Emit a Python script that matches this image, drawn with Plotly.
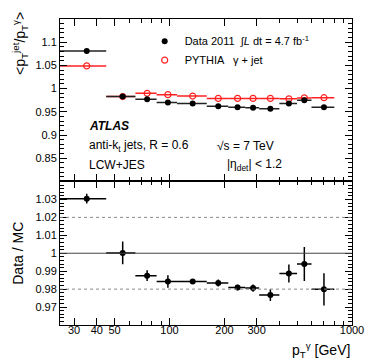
"""Photon + jet response: data vs PYTHIA, with Data/MC ratio."""

import plotly.graph_objects as go

# pT bins [GeV]
bin_lo = [25, 45, 65, 85, 110, 160, 210, 260, 310, 400, 500, 600]
bin_hi = [45, 65, 85, 110, 160, 210, 260, 310, 400, 500, 600, 800]
pt_center = [35.2, 55.4, 75.4, 98, 134, 185, 236, 287, 357, 451, 548, 702]

# <pT jet / pT gamma>
data_resp = [1.081, 0.983, 0.977, 0.970, 0.968, 0.962, 0.960, 0.959, 0.9565, 0.968, 0.975, 0.960]
data_err = [0.002, 0.002, 0.002, 0.002, 0.0015, 0.0015, 0.0015, 0.002, 0.002, 0.003, 0.005, 0.005]
mc_resp = [1.049, 0.983, 0.990, 0.987, 0.984, 0.979, 0.979, 0.979, 0.979, 0.978, 0.980, 0.9805]

# Data / MC
ratio = [1.0304, 1.0002, 0.9875, 0.9842, 0.9843, 0.9834, 0.9809, 0.9806, 0.9767, 0.9887, 0.9940, 0.9799]
ratio_err = [0.0027, 0.0064, 0.003, 0.0035, 0.0012, 0.002, 0.0015, 0.002, 0.0033, 0.005, 0.0095, 0.009]

x_labels = [30, 40, 50, 100, 200, 300, 1000]
x_minor = [60, 70, 80, 90, 400, 500, 600, 700, 800, 900]

up_ticks = [0.85, 0.9, 0.95, 1.0, 1.05, 1.1]
up_text = ["0.85", "0.9", "0.95", "1", "1.05", "1.1"]
lo_ticks = [0.97, 0.98, 0.99, 1.0, 1.01, 1.02, 1.03]
lo_text = ["0.97", "0.98", "0.99", "1", "1.01", "1.02", "1.03"]

FONT = "Liberation Sans, Arial, sans-serif"

# page has an 8px body margin; plot area wanted at x 56..355, y 18..325
OFF = 8
L, T = 56, 18
PW, PH = 299, 307

err_plus = [h - c for h, c in zip(bin_hi, pt_center)]
err_minus = [c - l for l, c in zip(bin_lo, pt_center)]

fig = go.Figure()

# MC (red open circles)
fig.add_trace(go.Scatter(
    x=pt_center, y=mc_resp, xaxis="x2", yaxis="y2",
    mode="markers", name="PYTHIA   γ + jet",
    marker=dict(symbol="circle-open", color="#ff2020", size=6, line=dict(width=1.2)),
    error_x=dict(type="data", array=err_plus, arrayminus=err_minus,
                 color="#ff2020", thickness=1.5, width=0),
))

# Data (black dots)
fig.add_trace(go.Scatter(
    x=pt_center, y=data_resp, xaxis="x2", yaxis="y2",
    mode="markers", name="Data 2011  ∫<i>L</i> dt = 4.7 fb<sup>-1</sup>",
    marker=dict(symbol="circle", color="black", size=6),
    error_x=dict(type="data", array=err_plus, arrayminus=err_minus,
                 color="#222222", thickness=1.5, width=0),
    error_y=dict(type="data", array=data_err, color="black", thickness=1.5, width=0),
))

# ratio
fig.add_trace(go.Scatter(
    x=pt_center, y=ratio, xaxis="x", yaxis="y",
    mode="markers", showlegend=False,
    marker=dict(symbol="circle", color="black", size=6),
    error_x=dict(type="data", array=err_plus, arrayminus=err_minus,
                 color="black", thickness=1.5, width=0),
    error_y=dict(type="data", array=ratio_err, color="black", thickness=1.5, width=0),
))

# reference lines in ratio panel
fig.add_hline(y=1.0, line=dict(color="#444444", width=1), xref="x", yref="y")
for yv in [1.02, 0.98]:
    fig.add_hline(y=yv, line=dict(color="#888888", width=1, dash="dot"), xref="x", yref="y")

axis_common = dict(
    showline=True, linecolor="black", linewidth=1, mirror="ticks",
    ticks="inside", tickcolor="black", showgrid=False, zeroline=False,
)

x_common = dict(
    axis_common, type="log",
    range=[1.4, 3.0],
    tickmode="array", tickvals=x_labels, ticklen=7,
    minor=dict(tickmode="array", tickvals=x_minor, ticks="inside", ticklen=4, tickcolor="black"),
)

fig.update_layout(
    width=374 - OFF, height=363 - OFF,
    margin=dict(l=L - OFF, r=374 - OFF - (L - OFF) - PW, t=T - OFF, b=363 - OFF - (T - OFF) - PH),
    paper_bgcolor="white", plot_bgcolor="white",
    font=dict(family=FONT, size=11, color="black"),
    xaxis=dict(x_common, anchor="y", ticktext=[str(v) for v in x_labels],
               tickfont=dict(size=11), ticklabelstandoff=-5),
    xaxis2=dict(x_common, anchor="y2", matches="x", showticklabels=False),
    yaxis=dict(axis_common, domain=[0, 0.469], range=[0.96, 1.04],
               tickmode="array", tickvals=lo_ticks, ticktext=lo_text, ticklen=7,
               minor=dict(dtick=0.002, ticks="inside", ticklen=4, tickcolor="black"),
               title=dict(text="Data / MC", font=dict(size=14), standoff=8)),
    yaxis2=dict(axis_common, domain=[0.469, 1], range=[0.8, 1.15],
                tickmode="array", tickvals=up_ticks, ticktext=up_text, ticklen=7,
                minor=dict(dtick=0.01, ticks="inside", ticklen=4, tickcolor="black")),
    legend=dict(x=0.29, y=0.975, xanchor="left", yanchor="top",
                bgcolor="rgba(0,0,0,0)", font=dict(size=11), traceorder="reversed",
                tracegroupgap=0),
)


def paper_x(px):
    return (px - L) / PW


def paper_y(py):
    return 1 - (py - T) / PH


# upper y title, placed near the top as in ROOT
fig.add_annotation(text="&lt;p<sub>T</sub><sup>jet</sup>/p<sub>T</sub><sup>γ</sup>&gt;",
                   xref="paper", yref="paper", x=paper_x(15), y=paper_y(42),
                   xanchor="center", yanchor="middle", textangle=-90,
                   showarrow=False, font=dict(size=14))

# x axis title, right aligned
fig.add_annotation(text="p<sub>T</sub><sup>γ</sup> [GeV]", xref="paper", yref="paper",
                   x=1.0, y=paper_y(350), xanchor="right", yanchor="middle",
                   showarrow=False, font=dict(size=14))

# labels in the upper panel
labels = [
    ("<b><i>ATLAS</i></b>", 84, 125),
    ("anti-k<sub>t</sub> jets, R = 0.6", 84, 145),
    ("LCW+JES", 84, 164),
    ("√s = 7 TeV", 215, 145),
    ("|η<sub>det</sub>| &lt; 1.2", 225, 164),
]
for txt, px_x, px_y in labels:
    fig.add_annotation(text=txt, xref="paper", yref="paper",
                       x=paper_x(px_x), y=paper_y(px_y),
                       xanchor="left", yanchor="middle", showarrow=False,
                       font=dict(size=12))

fig.write_html("out.html")
